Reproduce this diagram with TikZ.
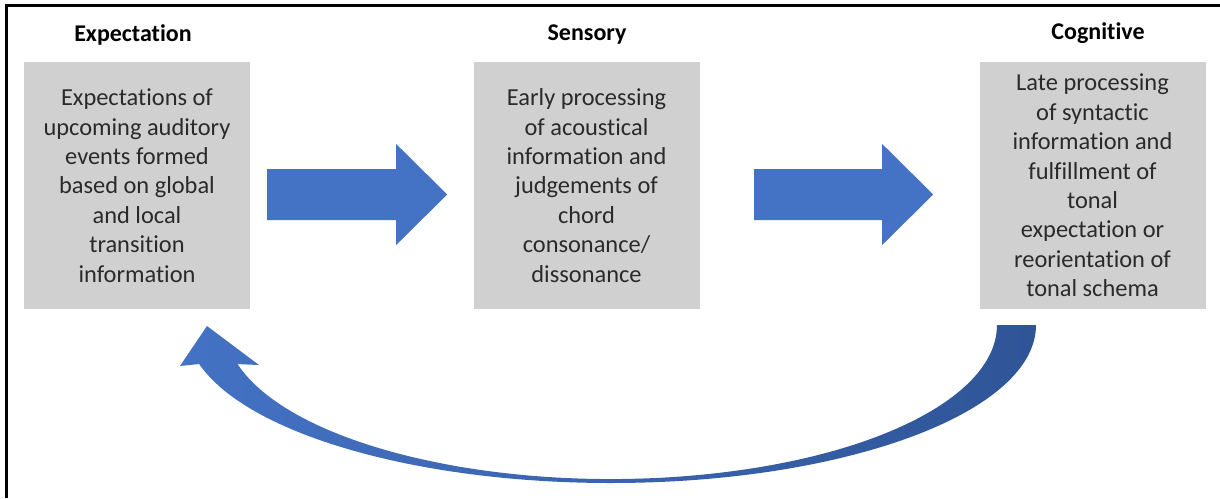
\documentclass[tikz,border=0pt]{standalone}
\usepackage{fontspec}
\setmainfont[Ligatures=NoCommon]{Carlito}
\usepackage{xcolor}
\usepackage{tikz}
\usetikzlibrary{positioning}

\definecolor{boxgray}{HTML}{D0D0D0}
\definecolor{arrowblue}{HTML}{4472C4}
\definecolor{arrowdark}{HTML}{2F5597}
\definecolor{txtgray}{HTML}{2A2A2A}

\tikzset{
  stagebox/.style={fill=boxgray, minimum width=226pt, minimum height=247pt, inner sep=0pt,
    align=center, text=txtgray, font=\fontsize{24.4}{29.4}\selectfont},
  stagetitle/.style={inner sep=0pt, font=\fontsize{24}{28}\selectfont\bfseries},
  bigarrow/.style={fill=arrowblue, draw=none}
}

\begin{document}
\begin{tikzpicture}[x=1pt,y=1pt,yscale=-1,xscale=1]
    \useasboundingbox (0,0) rectangle (1220,498);
    % frame
    \draw [line width=3pt] (6,498) -- (6,5.5) -- (1220,5.5);

    \node [stagebox] (expect) at (137,185.5) {Expectations of\\upcoming auditory\\events formed\\based on global\\and local\\transition\\information};
    \node [stagebox] (sensory) at (586.5,185.5) {Early processing\\of acoustical\\information and\\judgements of\\chord\\consonance/\\dissonance};
    \node [stagebox] (cognitive) at (1092.5,185.5) {Late processing\\of syntactic\\information and\\fulfillment of\\tonal\\expectation or\\reorientation of\\tonal schema};

    \node [stagetitle] (expectT) at (133,35) {Expectation};
    \node [stagetitle] (sensoryT) at (587,35) {Sensory};
    \node [stagetitle] (cognitiveT) at (1098,33) {Cognitive};

    % straight arrows
    \fill [bigarrow] ([xshift=17pt,yshift=-16.5pt]expect.east) -- ++(129,0) -- ++(0,-25) -- ++(51,50.5) -- ++(-51,50.5) -- ++(0,-25) -- ++(-129,0) -- cycle;
    \fill [bigarrow] ([xshift=54.5pt,yshift=-16.5pt]sensory.east) -- ++(128,0) -- ++(0,-25) -- ++(51,50.5) -- ++(-51,50.5) -- ++(0,-25) -- ++(-128,0) -- cycle;

    % curved arrow back
    \coordinate (tailR) at (1036,325);
    \shade [left color=arrowblue, right color=arrowdark] (tailR)
        arc [start angle=0, end angle=165.7, x radius=425, y radius=158]
        -- (180,366) -- (207,326) -- (259,365) -- (237.6,364.1)
        arc [start angle=165.3, end angle=0, x radius=386, y radius=154]
        -- cycle;
\end{tikzpicture}
\end{document}
